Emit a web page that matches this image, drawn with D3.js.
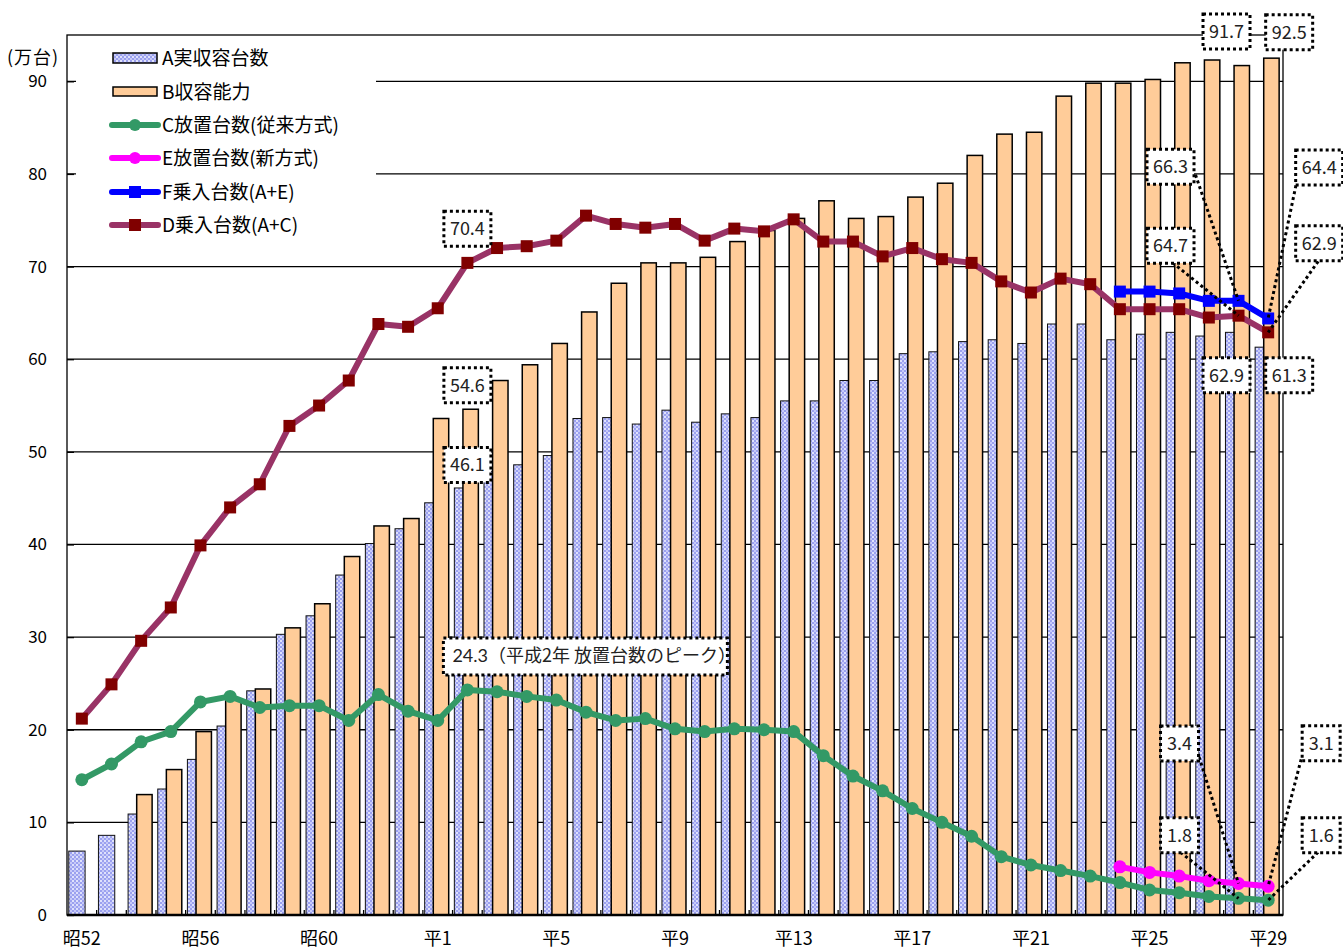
<!DOCTYPE html>
<html>
<head>
<meta charset="utf-8">
<script src="https://cdn.jsdelivr.net/npm/d3@7"></script>
<style>
  body { margin: 0; background: #fff; }
  text { font-family: "Noto Sans CJK JP", sans-serif; }
</style>
</head>
<body>
<svg id="chart" width="1343" height="949"></svg>
<script>
// years 昭52 .. 平29
const years = ['昭52','昭53','昭54','昭55','昭56','昭57','昭58','昭59','昭60','昭61','昭62','昭63',
  '平1','平2','平3','平4','平5','平6','平7','平8','平9','平10','平11','平12','平13','平14','平15',
  '平16','平17','平18','平19','平20','平21','平22','平23','平24','平25','平26','平27','平28','平29']
const tickYears = ['昭52','昭56','昭60','平1','平5','平9','平13','平17','平21','平25','平29']
const yTicks = [0, 10, 20, 30, 40, 50, 60, 70, 80, 90]

// A 実収容台数
const actualA = [6.9, 8.6, 10.9, 13.6, 16.8, 20.4, 24.2, 30.3, 32.3, 36.7, 40.1, 41.7, 44.5, 46.1,
  47.9, 48.6, 49.6, 53.6, 53.7, 53.0, 54.5, 53.2, 54.1, 53.7, 55.5, 55.5, 57.7, 57.7, 60.6, 60.8,
  61.9, 62.1, 61.7, 63.8, 63.8, 62.1, 62.7, 62.9, 62.5, 62.9, 61.3]
// B 収容能力
const capacityB = [null, null, 13.0, 15.7, 19.8, 23.2, 24.4, 31.0, 33.6, 38.7, 42.0, 42.8, 53.6, 54.6,
  57.7, 59.4, 61.7, 65.1, 68.2, 70.4, 70.4, 71.0, 72.7, 73.9, 75.2, 77.1, 75.2, 75.4, 77.5, 79.0,
  82.0, 84.3, 84.5, 88.4, 89.8, 89.8, 90.2, 92.0, 92.3, 91.7, 92.5]
// C 放置台数(従来方式)
const abandonedC = [14.6, 16.3, 18.7, 19.8, 23.0, 23.6, 22.4, 22.6, 22.6, 21.0, 23.8, 22.0, 21.0, 24.3,
  24.1, 23.6, 23.2, 21.9, 21.0, 21.2, 20.1, 19.8, 20.1, 20.0, 19.8, 17.2, 15.0, 13.4, 11.5, 10.0,
  8.5, 6.3, 5.4, 4.8, 4.2, 3.5, 2.7, 2.4, 2.0, 1.8, 1.6]
// E 放置台数(新方式)
const abandonedE = [null, null, null, null, null, null, null, null, null, null, null, null, null, null,
  null, null, null, null, null, null, null, null, null, null, null, null, null, null, null, null,
  null, null, null, null, null, 5.2, 4.6, 4.2, 3.7, 3.4, 3.1]
// F 乗入台数(A+E)
const inflowF = [null, null, null, null, null, null, null, null, null, null, null, null, null, null,
  null, null, null, null, null, null, null, null, null, null, null, null, null, null, null, null,
  null, null, null, null, null, 67.3, 67.3, 67.1, 66.3, 66.3, 64.4]
// D 乗入台数(A+C)
const inflowD = [21.2, 24.9, 29.6, 33.2, 39.9, 44.0, 46.5, 52.8, 55.0, 57.7, 63.8, 63.5, 65.5, 70.4,
  72.0, 72.2, 72.8, 75.5, 74.6, 74.2, 74.6, 72.8, 74.1, 73.8, 75.1, 72.7, 72.7, 71.1, 72.0, 70.8,
  70.4, 68.4, 67.2, 68.7, 68.1, 65.4, 65.4, 65.4, 64.5, 64.7, 62.9]

const legendNames = ['A実収容台数', 'B収容能力', 'C放置台数(従来方式)', 'E放置台数(新方式)', 'F乗入台数(A+E)', 'D乗入台数(A+C)']

const svg = d3.select('#chart')
const margin = { top: 35, right: 60, bottom: 34, left: 67 }
const width = 1343 - margin.left - margin.right
const height = 949 - margin.top - margin.bottom

const xScale = d3.scaleBand().domain(years).range([margin.left, margin.left + width])
const bw = xScale.bandwidth()
const yScale = d3.scaleLinear().domain([0, 95]).range([margin.top + height, margin.top])
const cx = i => xScale(years[i]) + bw / 2

// hatch pattern for A
const pat = svg.append('defs').append('pattern')
  .attr('id', 'hatchA').attr('patternUnits', 'userSpaceOnUse')
  .attr('width', 4).attr('height', 4)
pat.append('rect').attr('width', 4).attr('height', 4).attr('fill', '#9ba1ef')
pat.append('rect').attr('x', 0).attr('y', 0).attr('width', 2).attr('height', 2).attr('fill', '#dfe1fc')
pat.append('rect').attr('x', 2).attr('y', 2).attr('width', 2).attr('height', 2).attr('fill', '#c6c9f8')

// gridlines
svg.append('g').selectAll('line')
  .data(yTicks.filter(d => d > 0))
  .enter().append('line')
  .attr('x1', margin.left).attr('x2', margin.left + width)
  .attr('y1', d => yScale(d)).attr('y2', d => yScale(d))
  .attr('stroke', '#000').attr('stroke-width', 1.3)

// bars
const barG = svg.append('g')
years.forEach((yr, i) => {
  if (actualA[i] != null) {
    barG.append('rect')
      .attr('x', xScale(yr) + bw * 0.06)
      .attr('y', yScale(actualA[i]))
      .attr('width', bw * 0.55)
      .attr('height', yScale(0) - yScale(actualA[i]))
      .attr('fill', 'url(#hatchA)').attr('stroke', '#111').attr('stroke-width', 1)
  }
  if (capacityB[i] != null) {
    barG.append('rect')
      .attr('x', xScale(yr) + bw * 0.35)
      .attr('y', yScale(capacityB[i]))
      .attr('width', bw * 0.52)
      .attr('height', yScale(0) - yScale(capacityB[i]))
      .attr('fill', '#ffcc99').attr('stroke', '#000').attr('stroke-width', 1.5)
  }
})

// plot frame
svg.append('rect')
  .attr('x', margin.left).attr('y', margin.top)
  .attr('width', width).attr('height', height)
  .attr('fill', 'none').attr('stroke', '#000').attr('stroke-width', 1.3)
svg.append('line')
  .attr('x1', margin.left).attr('x2', margin.left + width)
  .attr('y1', yScale(0)).attr('y2', yScale(0))
  .attr('stroke', '#000').attr('stroke-width', 2.5)

// category boundary ticks
svg.append('g').selectAll('line')
  .data(years.slice(1))
  .enter().append('line')
  .attr('x1', d => xScale(d)).attr('x2', d => xScale(d))
  .attr('y1', yScale(0)).attr('y2', yScale(0) - 5)
  .attr('stroke', '#000').attr('stroke-width', 1.3)

// axes
const yAxis = d3.axisLeft(yScale).tickValues(yTicks).tickSizeInner(-7).tickSizeOuter(0).tickPadding(20)
const yAxisG = svg.append('g').attr('transform', `translate(${margin.left},0)`).call(yAxis)
yAxisG.select('.domain').remove()
yAxisG.selectAll('line').attr('stroke-width', 1.3)
yAxisG.selectAll('text').attr('font-family', '"Liberation Sans", Arial, sans-serif').attr('font-size', 17).attr('fill', '#000')

const xAxis = d3.axisBottom(xScale).tickValues(tickYears).tickSize(0).tickPadding(17)
const xAxisG = svg.append('g').attr('transform', `translate(0,${yScale(0)})`).call(xAxis)
xAxisG.select('.domain').remove()
xAxisG.selectAll('text').attr('font-family', '"Noto Sans CJK JP", sans-serif').attr('font-size', 18).attr('fill', '#000')

svg.append('text').attr('x', 7).attr('y', 58).attr('dy', '0.36em')
  .attr('font-size', 18).attr('letter-spacing', 1)
  .text('(万台)')

// legend
svg.append('rect').attr('x', 76).attr('y', 40).attr('width', 300).attr('height', 205).attr('fill', '#fff')

// lines
const series = [
  { data: abandonedC, line: '#339966', marker: '#339966', shape: 'circle' },
  { data: abandonedE, line: '#ff00ff', marker: '#ff00ff', shape: 'circle' },
  { data: inflowF, line: '#0000ff', marker: '#0000ff', shape: 'square' },
  { data: inflowD, line: '#993366', marker: '#800000', shape: 'square' }
]
const lineGen = d3.line().defined(d => d != null).x((d, i) => cx(i)).y(d => yScale(d))
series.forEach(s => {
  svg.append('path').datum(s.data)
    .attr('d', lineGen)
    .attr('fill', 'none').attr('stroke', s.line).attr('stroke-width', 6)
    .attr('stroke-linejoin', 'round')
  const pts = s.data.map((v, i) => ({ v, i })).filter(p => p.v != null)
  if (s.shape === 'circle') {
    svg.append('g').selectAll('circle').data(pts).enter().append('circle')
      .attr('cx', p => cx(p.i)).attr('cy', p => yScale(p.v)).attr('r', 6.5)
      .attr('fill', s.marker)
  } else {
    svg.append('g').selectAll('rect').data(pts).enter().append('rect')
      .attr('x', p => cx(p.i) - 6).attr('y', p => yScale(p.v) - 6)
      .attr('width', 12).attr('height', 12).attr('fill', s.marker)
  }
})

// legend items
const legY = [58, 92, 125, 158, 192, 225]
const lg = svg.append('g')
lg.append('rect').attr('x', 113).attr('y', legY[0] - 5).attr('width', 44).attr('height', 10)
  .attr('fill', 'url(#hatchA)').attr('stroke', '#000').attr('stroke-width', 1.5)
lg.append('rect').attr('x', 113).attr('y', legY[1] - 5).attr('width', 44).attr('height', 9)
  .attr('fill', '#ffcc99').attr('stroke', '#000').attr('stroke-width', 1.5)
series.forEach((s, k) => {
  const yy = legY[k + 2]
  lg.append('line').attr('x1', 112).attr('x2', 158).attr('y1', yy).attr('y2', yy)
    .attr('stroke', s.line).attr('stroke-width', 6).attr('stroke-linecap', 'round')
  if (s.shape === 'circle') {
    lg.append('circle').attr('cx', 135).attr('cy', yy).attr('r', 6).attr('fill', s.marker)
  } else {
    lg.append('rect').attr('x', 129).attr('y', yy - 6).attr('width', 12).attr('height', 12).attr('fill', s.marker)
  }
})
legendNames.forEach((name, k) => {
  lg.append('text').attr('x', 162).attr('y', legY[k]).attr('dy', '0.36em')
    .attr('font-size', 19).attr('fill', '#000').text(name)
})

// data labels: which point, and where the box sits relative to it
const callouts = [
  { series: inflowD, i: 13, dx: 0, dy: -34 },
  { series: capacityB, i: 13, dx: 0, dy: -24 },
  { series: actualA, i: 13, dx: 0, dy: -23 },
  { series: capacityB, i: 39, dx: -12, dy: -34 },
  { series: capacityB, i: 40, dx: 21, dy: -26 },
  { series: actualA, i: 39, dx: -12, dy: 43 },
  { series: actualA, i: 40, dx: 21, dy: 28 },
  { series: inflowF, i: 39, dx: -68, dy: -134, leader: [25, 8] },
  { series: inflowD, i: 39, dx: -68, dy: -70, leader: [2, 17] },
  { series: inflowF, i: 40, dx: 51, dy: -151, leader: [-22, 12] },
  { series: inflowD, i: 40, dx: 51, dy: -89, leader: [-1, 18] },
  { series: abandonedE, i: 39, dx: -59, dy: -140, leader: [16, 2] },
  { series: abandonedC, i: 39, dx: -59, dy: -63, leader: [1, 17] },
  { series: abandonedE, i: 40, dx: 53, dy: -143, leader: [-20, 16] },
  { series: abandonedC, i: 40, dx: 53, dy: -65, leader: [-3, 17] }
]
const labelFont = 'Lato, "Noto Sans", sans-serif'
const annG = svg.append('g')
callouts.forEach(c => {
  const px = cx(c.i), py = yScale(c.series[c.i])
  const bx = px + c.dx, by = py + c.dy
  const txt = c.series[c.i].toFixed(1)
  const w = txt.length > 3 ? 47 : 38, h = 35
  if (c.leader) {
    annG.append('line')
      .attr('x1', bx + c.leader[0]).attr('y1', by + c.leader[1])
      .attr('x2', px).attr('y2', py)
      .attr('stroke', '#000').attr('stroke-width', 3).attr('stroke-dasharray', '3 3')
  }
  annG.append('rect').attr('x', bx - w / 2).attr('y', by - h / 2).attr('width', w).attr('height', h)
    .attr('fill', '#fff').attr('stroke', '#000').attr('stroke-width', 3).attr('stroke-dasharray', '3 3')
  annG.append('text').attr('x', bx).attr('y', by).attr('dy', '0.36em').attr('text-anchor', 'middle')
    .attr('font-family', labelFont).attr('font-size', 18).attr('fill', '#222').text(txt)
})

// peak callout
const peakI = 13
const pkx = cx(peakI) - 24, pky = yScale(abandonedC[peakI]) - 34
annG.append('rect').attr('x', pkx).attr('y', pky - 18).attr('width', 284).attr('height', 37)
  .attr('fill', '#fff').attr('stroke', '#000').attr('stroke-width', 3).attr('stroke-dasharray', '3 3')
const pt = annG.append('text').attr('x', pkx + 9).attr('y', pky).attr('dy', '0.36em')
  .attr('font-size', 18).attr('fill', '#222')
pt.append('tspan').attr('font-family', labelFont).text(abandonedC[peakI].toFixed(1))
pt.append('tspan').text('（平成2年 放置台数のピーク）')
</script>
</body>
</html>
